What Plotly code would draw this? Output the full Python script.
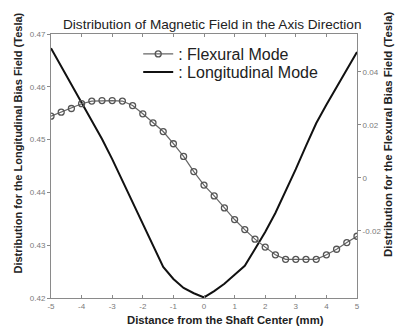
import plotly.graph_objects as go

# Distance from shaft center (mm), 1/3 mm steps
x_mm = [-5, -4.667, -4.333, -4, -3.667, -3.333, -3, -2.667, -2.333, -2, -1.667, -1.333, -1, -0.667, -0.333, 0,
        0.333, 0.667, 1, 1.333, 1.667, 2, 2.333, 2.667, 3, 3.333, 3.667, 4, 4.333, 4.667, 5]

# Flexural mode bias field (Tesla) - right axis
flexural = [0.0233, 0.0248, 0.0262, 0.0280, 0.0290, 0.0292, 0.0292, 0.0290, 0.0273, 0.0242, 0.0208, 0.0175,
            0.0129, 0.0081, 0.0024, -0.0027, -0.0068, -0.0113, -0.0157, -0.0195, -0.0231, -0.0261, -0.0290,
            -0.0307, -0.0307, -0.0307, -0.0307, -0.0290, -0.0269, -0.0244, -0.0220]

# Longitudinal mode bias field (Tesla) - left axis
longitudinal = [0.4673, 0.4639, 0.4605, 0.4571, 0.4537, 0.4501, 0.4463, 0.4422, 0.4380, 0.4338, 0.4298, 0.4259,
                0.4236, 0.4219, 0.4209, 0.4201, 0.4213, 0.4227, 0.4244, 0.4261, 0.4293, 0.4325, 0.4361, 0.4401,
                0.4444, 0.4488, 0.4531, 0.4566, 0.4600, 0.4634, 0.4666]

x_ticks = [-5, -4, -3, -2, -1, 0, 1, 2, 3, 4, 5]
left_ticks = [0.42, 0.43, 0.44, 0.45, 0.46, 0.47]
right_ticks = [-0.02, 0, 0.02, 0.04]
right_tick_text = ["-0.02", "0", "0.02", "0.04"]

FONT = "Liberation Sans, Arial, sans-serif"
AX = "#8a8a8a"
TXT = "#222222"
TICKFONT = dict(family=FONT, size=8, color="#7a7a7a")

fig = go.Figure()
fig.add_trace(go.Scatter(
    x=x_mm, y=flexural, yaxis="y2", name=": Flexural Mode", mode="lines+markers", legend="legend",
    line=dict(color="#666666", width=1.2),
    marker=dict(symbol="circle-open", size=6, color="#555555", line=dict(width=1.3, color="#555555")),
))
fig.add_trace(go.Scatter(
    x=x_mm, y=longitudinal, yaxis="y", name=": Longitudinal Mode", mode="lines", legend="legend2",
    line=dict(color="#111111", width=2),
))

leg_common = dict(xanchor="left", yanchor="middle", bgcolor="rgba(0,0,0,0)",
                  font=dict(size=16, family=FONT, color=TXT), itemwidth=30)

fig.update_layout(
    width=395, height=327,
    margin=dict(l=51, r=38, t=34, b=29),
    paper_bgcolor="white", plot_bgcolor="white",
    font=dict(family=FONT, color=TXT),
    xaxis=dict(range=[-5, 5], tickvals=x_ticks, ticktext=[str(v) for v in x_ticks], automargin=False,
               showline=True, linecolor=AX, linewidth=1, mirror="ticks", ticks="inside", ticklen=3,
               tickcolor=AX, tickfont=TICKFONT, showgrid=False, zeroline=False),
    yaxis=dict(range=[0.42, 0.47], tickvals=left_ticks, ticktext=[f"{v:.2f}" for v in left_ticks],
               automargin=False, showline=True, linecolor=AX, linewidth=1, ticks="outside", ticklen=3,
               tickcolor=AX, tickfont=TICKFONT, showgrid=False, zeroline=False),
    yaxis2=dict(range=[-0.0453, 0.0543], overlaying="y", side="right", tickvals=right_ticks,
                ticktext=right_tick_text, automargin=False, showline=True, linecolor=AX, linewidth=1,
                ticks="outside", ticklen=3, tickcolor=AX, tickfont=TICKFONT, showgrid=False, zeroline=False),
    legend=dict(x=0.285, y=(298 - 54) / 264, **leg_common),
    legend2=dict(x=0.285, y=(298 - 72) / 264, **leg_common),
    showlegend=True,
    annotations=[
        dict(text="Distribution of Magnetic Field in the Axis Direction", xref="paper", yref="paper",
             x=(211.5 - 51) / 306, y=(298 - 24) / 264, xanchor="center", yanchor="middle", showarrow=False,
             font=dict(size=13.6, family=FONT, color=TXT)),
        dict(text="<b>Distance from the Shaft Center (mm)</b>", xref="paper", yref="paper",
             x=(225 - 51) / 306, y=(298 - 319.5) / 264, xanchor="center", yanchor="middle", showarrow=False,
             font=dict(size=11.3, family=FONT, color=TXT)),
        dict(text="<b>Distribution for the Longitudinal Bias Field (Tesla)</b>", xref="paper", yref="paper",
             x=(17 - 51) / 306, y=(298 - 143.5) / 264, xanchor="center", yanchor="middle", showarrow=False,
             textangle=-90, font=dict(size=11, family=FONT, color=TXT)),
        dict(text="<b>Distribution for the Flexural Bias Field (Tesla)</b>", xref="paper", yref="paper",
             x=(388 - 51) / 306, y=(298 - 134) / 264, xanchor="center", yanchor="middle", showarrow=False,
             textangle=-90, font=dict(size=11.4, family=FONT, color=TXT)),
    ],
)

fig.write_html("out.html")
